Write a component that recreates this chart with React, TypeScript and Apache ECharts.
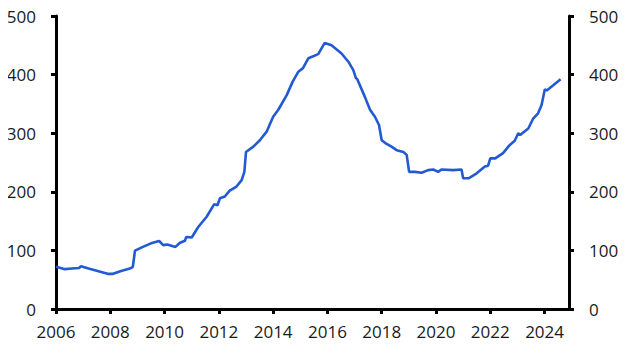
import React, { useEffect, useRef } from "react";
import * as echarts from "echarts";

const years: number[] = [
  2006.0, 2006.33, 2006.58, 2006.85, 2006.92, 2007.2, 2007.6, 2007.9, 2008.1, 2008.4,
  2008.72, 2008.83, 2008.91, 2009.2, 2009.5, 2009.8, 2009.95, 2010.1, 2010.4, 2010.57,
  2010.75, 2010.8, 2011.0, 2011.24, 2011.55, 2011.83, 2011.95, 2012.04, 2012.22, 2012.4,
  2012.65, 2012.84, 2012.94, 2013.0, 2013.27, 2013.51, 2013.76, 2014.0, 2014.19, 2014.5,
  2014.72, 2014.93, 2015.1, 2015.3, 2015.66, 2015.9, 2016.15, 2016.52, 2016.77, 2016.95,
  2017.05, 2017.1, 2017.38, 2017.57, 2017.75, 2017.9, 2018.0, 2018.18, 2018.36, 2018.55,
  2018.8, 2018.92, 2019.01, 2019.22, 2019.47, 2019.71, 2019.9, 2020.08, 2020.2, 2020.63,
  2020.94, 2021.0, 2021.2, 2021.5, 2021.8, 2021.92, 2022.0, 2022.18, 2022.47, 2022.72,
  2022.9, 2023.03, 2023.1, 2023.4, 2023.58, 2023.76, 2023.89, 2024.01, 2024.08, 2024.32,
  2024.59,
];

const values: number[] = [
  72, 68, 69, 70, 73, 69, 64, 60, 60, 65,
  69, 72, 99.5, 106, 112, 116, 109, 110, 106, 113,
  116.5, 123, 122, 140, 157.5, 179, 177, 189, 192, 202,
  209, 220, 234, 268, 277, 288, 302.6, 328, 340, 365,
  388, 405, 411, 428, 435, 454, 450, 436, 422, 408,
  394, 392, 362, 340, 328, 314, 288, 281.6, 277, 271,
  268, 263, 234, 234, 232.6, 237, 238, 234, 238, 237,
  238, 223, 223, 231.5, 243, 244.5, 257, 257, 266, 280,
  287, 300, 297, 308, 325, 334, 348, 375, 373, 382,
  392,
];

const xMin = 2006;
const xMax = 2024.9;
const yTicks = [0, 100, 200, 300, 400, 500];

export default function App() {
  const ref = useRef<HTMLDivElement>(null);
  useEffect(() => {
    if (!ref.current) return;
    const chart = echarts.init(ref.current, null, { renderer: "svg" });
    const font = "'Open Sans', 'Noto Sans', sans-serif";
    const axisLabel = { color: "#1a1a1a", fontSize: 17, fontFamily: font, margin: 20 };
    const yCommon = {
      type: "value" as const,
      min: yTicks[0],
      max: yTicks[yTicks.length - 1],
      interval: 100,
      splitLine: { show: false },
      axisLine: { show: true, lineStyle: { color: "#000", width: 3 } },
      axisTick: { show: true, length: 5, lineStyle: { color: "#000", width: 3 } },
    };
    chart.setOption({
      animation: false,
      grid: { left: 56, right: 61, top: 16, bottom: 47, containLabel: false },
      xAxis: {
        type: "value",
        min: xMin,
        max: xMax,
        interval: 2,
        splitLine: { show: false },
        axisLine: { show: true, lineStyle: { color: "#000", width: 3 } },
        axisTick: { show: true, length: 5, lineStyle: { color: "#000", width: 3 } },
        axisLabel: { ...axisLabel, margin: 14, formatter: (v: number) => String(v) },
      },
      yAxis: [
        { ...yCommon, position: "left", axisLabel: { ...axisLabel } },
        { ...yCommon, position: "right", axisLabel: { ...axisLabel } },
      ],
      series: [
        {
          type: "line",
          yAxisIndex: 0,
          data: years.map((y, i) => [y, values[i]]),
          showSymbol: false,
          symbol: "none",
          lineStyle: { color: "#225AD2", width: 2.6 },
        },
      ],
    });
    return () => chart.dispose();
  }, []);
  return <div ref={ref} style={{ width: 630, height: 356, margin: -8 }} />;
}
